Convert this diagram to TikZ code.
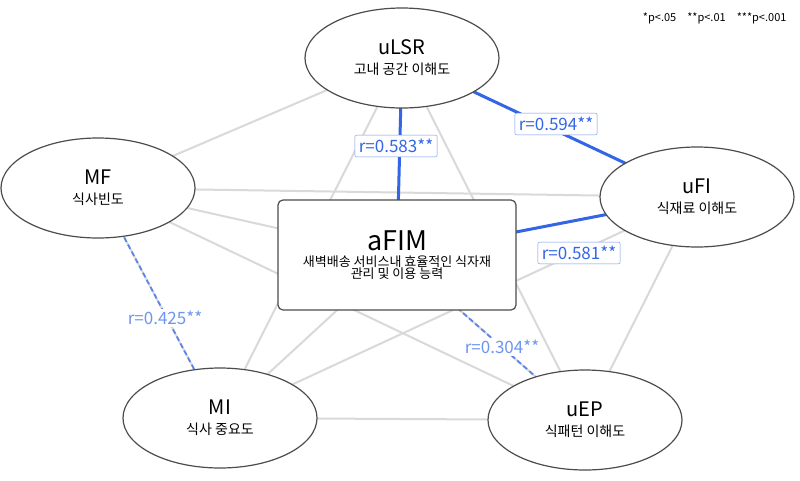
\documentclass[tikz,border=0pt]{standalone}
\usepackage{fontspec}
\setmainfont{Noto Sans CJK KR}
\usetikzlibrary{shapes.geometric}
\definecolor{bb}{HTML}{3366E6}
\definecolor{lbb}{HTML}{6E96F0}
\begin{document}
\begin{tikzpicture}[x=1pt,y=-1pt,
  ell/.style={ellipse,draw=black!70,line width=1.2pt,fill=white,minimum width=194pt,minimum height=100pt,align=center,inner sep=0pt},
  gl/.style={draw=black!15,line width=2pt},
  bl/.style={draw=bb,line width=3pt},
  dl/.style={draw=bb!80,line width=1.8pt,dash pattern=on 5pt off 3pt},
  lb/.style={draw=bb!70,fill=white,text=bb,font=\fontsize{17}{19}\selectfont,rounded corners=2pt,inner sep=4pt},
  lf/.style={fill=white,text=lbb,font=\fontsize{17}{19}\selectfont,inner sep=2pt}]
\useasboundingbox (0,0) rectangle (800,480);
\fill[white] (0,0) rectangle (800,480);
\coordinate (pLSR) at (402,58);
\coordinate (pMF) at (98,188);
\coordinate (pFI) at (697,197);
\coordinate (pMI) at (220,418);
\coordinate (pEP) at (585,420);
\coordinate (pA) at (397,255);
\foreach \a/\b in {pLSR/pMF,pLSR/pFI,pLSR/pMI,pLSR/pEP,pMF/pFI,pMF/pMI,pMF/pEP,pFI/pMI,pFI/pEP,pMI/pEP,pA/pMI,pA/pEP,pA/pMF,pA/pFI,pA/pLSR}
  \draw[gl] (\a) -- (\b);
\draw[bl] (pLSR) -- (pA);
\draw[bl] (pLSR) -- (pFI);
\draw[bl] (pFI) -- (pA);
\draw[dl] (pMF) -- (pMI);
\draw[dl] (pA) -- (pEP);
\node[ell] (uLSR) at (pLSR) {\fontsize{20}{24}\selectfont uLSR\\[8pt]\fontsize{14}{16}\selectfont 고내 공간 이해도};
\node[ell] (MF) at (pMF) {\fontsize{20}{24}\selectfont MF\\[8pt]\fontsize{14}{16}\selectfont 식사빈도};
\node[ell] (uFI) at (pFI) {\fontsize{20}{24}\selectfont uFI\\[8pt]\fontsize{14}{16}\selectfont 식재료 이해도};
\node[ell] (MI) at (pMI) {\fontsize{20}{24}\selectfont MI\\[8pt]\fontsize{14}{16}\selectfont 식사 중요도};
\node[ell] (uEP) at (pEP) {\fontsize{20}{24}\selectfont uEP\\[8pt]\fontsize{14}{16}\selectfont 식패턴 이해도};
\node[draw=black!70,line width=1.2pt,fill=white,rounded corners=5pt,minimum width=238pt,minimum height=110pt,align=center] (aFIM) at (pA)
 {\fontsize{27}{30}\selectfont aFIM\\[4pt]\fontsize{13}{26}\selectfont 새벽배송 서비스내 효율적인 식자재\\ \fontsize{13}{26}\selectfont 관리 및 이용 능력};
\node[lb] (l1) at (396,146) {r=0.583**};
\node[lb] (l2) at (556,124) {r=0.594**};
\node[lb] (l3) at (579,253) {r=0.581**};
\node[lf] (l4) at (165,318) {r=0.425**};
\node[lf] (l5) at (502,347) {r=0.304**};
\node[font=\fontsize{11}{13}\selectfont,anchor=east] (sig) at (790,18) {*p<.05\quad **p<.01\quad ***p<.001};
\end{tikzpicture}
\end{document}
